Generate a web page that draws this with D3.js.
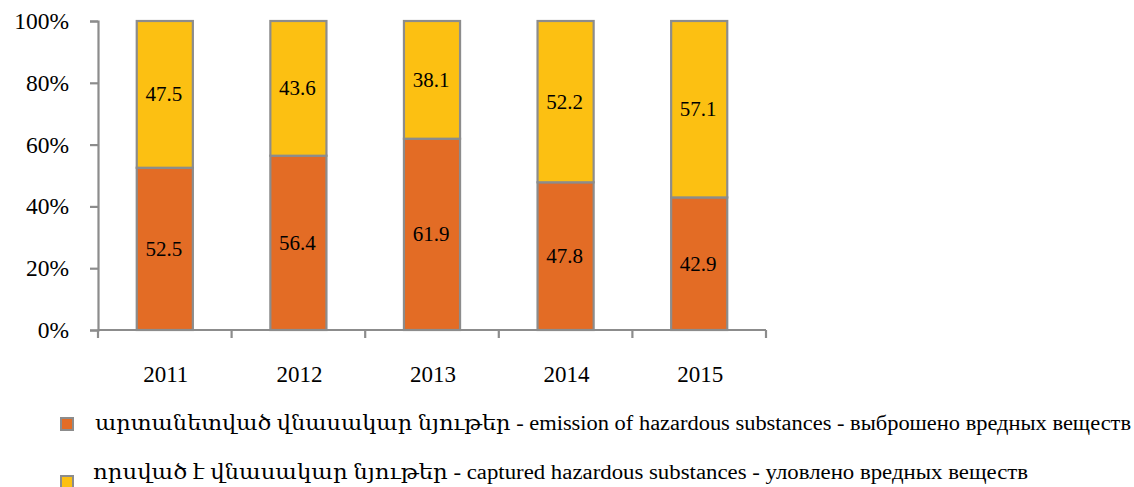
<!DOCTYPE html>
<html><head><meta charset="utf-8">
<script src="https://cdn.jsdelivr.net/npm/d3@7"></script>
<style>
body{margin:0;background:#fff;}
svg text{font-family:"Liberation Serif","Times New Roman","DejaVu Serif",serif !important;fill:#000;}
</style></head>
<body><svg id="c" width="1134" height="487"></svg>
<script>
const years = ["2011","2012","2013","2014","2015"];
const emitted = [52.5,56.4,61.9,47.8,42.9];
const captured = [47.5,43.6,38.1,52.2,57.1];
const yTicks = [0,20,40,60,80,100];
const legendLabels = [
  "արտանետված վնասակար նյութեր - emission of hazardous substances - выброшено вредных веществ",
  "որսված է վնասակար նյութեր -  captured hazardous substances - уловлено вредных веществ"
];
const colors = ["#E36C25","#FCC012"];
const strokeCol = "#8C8C8C";
const serif = "'Liberation Serif','Times New Roman','DejaVu Serif',serif";

const svg = d3.select("#c");
const x = d3.scaleBand().domain(years).range([98,766]).padding(0);
const y = d3.scaleLinear().domain([0,100]).range([330,21]);
const barFrac = 0.42;

const series = [emitted, captured];
years.forEach((yr,i)=>{
  let base = 0;
  series.forEach((s,k)=>{
    const v = s[i];
    const bw = x.bandwidth()*barFrac;
    const bx = x(yr)+ (x.bandwidth()-bw)/2;
    svg.append("rect")
      .attr("x",bx).attr("y",y(base+v))
      .attr("width",bw).attr("height",y(base)-y(base+v))
      .attr("fill",colors[k]).attr("stroke",strokeCol).attr("stroke-width",2.2);
    svg.append("text")
      .attr("x",x(yr)+x.bandwidth()/2-1).attr("y",y(base+v/2)+7)
      .attr("text-anchor","middle").style("font-size","21px").style("font-family",serif)
      .text(v.toFixed(1));
    base += v;
  });
});

const ya = svg.append("g").attr("transform","translate(98,0)")
  .call(d3.axisLeft(y).tickValues(yTicks).tickFormat(d=>d+"%").tickSize(8).tickSizeOuter(8).tickPadding(21));
ya.attr("font-family",null);
ya.select(".domain").attr("stroke",strokeCol).attr("stroke-width",2.2);
ya.selectAll(".tick line").attr("stroke",strokeCol).attr("stroke-width",2.2);
ya.selectAll(".tick text").style("font-size","23.5px").style("font-family",serif);

const xa = svg.append("g").attr("transform","translate(0,330)");
xa.append("line").attr("x1",x.range()[0]).attr("x2",x.range()[1]).attr("stroke",strokeCol).attr("stroke-width",2.2);
const bounds = years.map(d=>x(d)).concat([x.range()[1]]);
bounds.forEach(b=>{
  xa.append("line").attr("x1",b).attr("x2",b).attr("y1",0).attr("y2",8).attr("stroke",strokeCol).attr("stroke-width",2.2);
});
years.forEach(yr=>{
  xa.append("text").attr("x",x(yr)+x.bandwidth()/2+1).attr("y",52)
    .attr("text-anchor","middle").style("font-size","23px").style("font-family",serif).text(yr);
});

const legY = [423, 472];
const legEnd = [1131, 1028];
const legStart = [95, 93];
legendLabels.forEach((l,i)=>{
  svg.append("rect").attr("x",61).attr("y",i?476:418).attr("width",12).attr("height",12)
    .attr("fill",colors[i]).attr("stroke",strokeCol).attr("stroke-width",2);
  svg.append("text").attr("x",legStart[i]).attr("y",legY[i]+7)
    .attr("textLength",legEnd[i]-legStart[i]).attr("lengthAdjust","spacingAndGlyphs")
    .style("font-size","20px").style("font-family",serif).text(l);
});
</script></body></html>
